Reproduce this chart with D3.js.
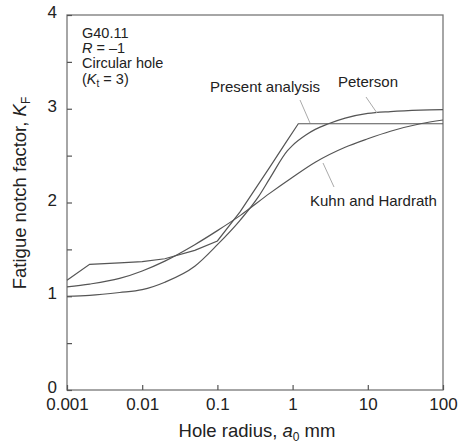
<!DOCTYPE html>
<html>
<head>
<meta charset="utf-8">
<script src="https://cdn.jsdelivr.net/npm/d3@7"></script>
<style>
body { margin: 0; background: #fff; }
text { font-family: Arial, "Liberation Sans", sans-serif; fill: #222; }
</style>
</head>
<body>
<svg></svg>
<script>
var presentX = [0.001, 0.002, 0.005, 0.01, 0.02, 0.05, 0.1, 0.2, 0.5, 0.8, 1.19, 100];
var presentK = [1.17, 1.34, 1.355, 1.37, 1.40, 1.49, 1.59, 1.90, 2.38, 2.63, 2.84, 2.84];

var petersonX = [0.001, 0.002, 0.005, 0.01, 0.02, 0.05, 0.1, 0.2, 0.35, 0.5, 0.85, 1, 1.5, 2, 3, 5, 10, 20, 50, 100];
var petersonK = [1.00, 1.01, 1.04, 1.07, 1.15, 1.32, 1.55, 1.81, 2.06, 2.26, 2.55, 2.61, 2.72, 2.78, 2.84, 2.90, 2.95, 2.97, 2.985, 2.99];

var kuhnX = [0.001, 0.002, 0.005, 0.01, 0.02, 0.05, 0.1, 0.2, 0.5, 1, 2, 5, 10, 20, 50, 100];
var kuhnK = [1.10, 1.13, 1.19, 1.27, 1.375, 1.55, 1.70, 1.86, 2.10, 2.27, 2.43, 2.59, 2.68, 2.76, 2.84, 2.88];

var xTicks = [0.001, 0.01, 0.1, 1, 10, 100];
var xTickLabels = ["0.001", "0.01", "0.1", "1", "10", "100"];
var yTicks = [0, 0.5, 1, 1.5, 2, 2.5, 3, 3.5, 4];

var svg = d3.select("svg")
    .attr("width", 458)
    .attr("height", 444);

var x = d3.scaleLog().domain([0.001, 100]).range([67, 443]);
var y = d3.scaleLinear().domain([0, 4]).range([390, 15]);

// frame
svg.append("rect")
    .attr("x", 67).attr("y", 15)
    .attr("width", 443 - 67).attr("height", 390 - 15)
    .attr("fill", "none")
    .attr("stroke", "#777")
    .attr("stroke-width", 1.3);

var xAxis = svg.append("g")
    .attr("transform", "translate(0,390)")
    .call(d3.axisBottom(x)
        .tickValues(xTicks)
        .tickSize(-5)
        .tickPadding(8)
        .tickFormat(function(d, i) { return xTickLabels[i]; }));

var yAxis = svg.append("g")
    .attr("transform", "translate(67,0)")
    .call(d3.axisLeft(y)
        .tickValues(yTicks)
        .tickSize(-5)
        .tickPadding(10)
        .tickFormat(function(d) { return d % 1 === 0 ? d : ""; }));

yAxis.selectAll(".tick text").attr("dy", "0.15em");

svg.selectAll(".domain").remove();
svg.selectAll(".tick line").attr("stroke", "#555").attr("stroke-width", 1.2);
svg.selectAll(".tick text")
    .attr("font-size", 17)
    .attr("font-family", "Arial, 'Liberation Sans', sans-serif")
    .attr("fill", "#222");

var line = d3.line()
    .x(function(d) { return x(d[0]); })
    .y(function(d) { return y(d[1]); })
    .curve(d3.curveMonotoneX);

function pairs(xs, ks) {
    return xs.map(function(v, i) { return [v, ks[i]]; });
}

svg.append("path")
    .datum(pairs(petersonX, petersonK))
    .attr("d", line)
    .attr("fill", "none").attr("stroke", "#555").attr("stroke-width", 1.2);

svg.append("path")
    .datum(pairs(kuhnX, kuhnK))
    .attr("d", line)
    .attr("fill", "none").attr("stroke", "#555").attr("stroke-width", 1.2);

svg.append("path")
    .datum(pairs(presentX, presentK))
    .attr("d", d3.line()
        .x(function(d) { return x(d[0]); })
        .y(function(d) { return y(d[1]); }))
    .attr("fill", "none").attr("stroke", "#555").attr("stroke-width", 1.2);

// leader lines
var leaders = [
    [300, 100, 310, 123],
    [366, 97, 377, 113],
    [323, 163, 334, 187]
];
svg.selectAll(".leader")
    .data(leaders)
    .enter().append("line")
    .attr("class", "leader")
    .attr("x1", function(d) { return d[0]; })
    .attr("y1", function(d) { return d[1]; })
    .attr("x2", function(d) { return d[2]; })
    .attr("y2", function(d) { return d[3]; })
    .attr("stroke", "#aaa")
    .attr("stroke-width", 1);

svg.append("text").attr("x", 210).attr("y", 92).attr("font-size", 15).text("Present analysis");
svg.append("text").attr("x", 338).attr("y", 87).attr("font-size", 15).text("Peterson");
svg.append("text").attr("x", 310).attr("y", 206).attr("font-size", 15).text("Kuhn and Hardrath");

// note block
svg.append("text").attr("x", 82).attr("y", 38).attr("font-size", 14.5).text("G40.11");
var r = svg.append("text").attr("x", 82).attr("y", 53).attr("font-size", 14.5);
r.append("tspan").attr("font-style", "italic").text("R");
r.append("tspan").text(" = \u20131");
svg.append("text").attr("x", 82).attr("y", 68).attr("font-size", 14.5).text("Circular hole");
var kt = svg.append("text").attr("x", 82).attr("y", 84).attr("font-size", 14.5);
kt.append("tspan").text("(");
kt.append("tspan").attr("font-style", "italic").text("K");
kt.append("tspan").attr("font-size", 10).attr("dy", 3).text("t");
kt.append("tspan").attr("dy", -3).text(" = 3)");

// axis titles
var xt = svg.append("text")
    .attr("x", 257).attr("y", 437)
    .attr("text-anchor", "middle")
    .attr("font-size", 18.5);
xt.append("tspan").text("Hole radius, ");
xt.append("tspan").attr("font-style", "italic").text("a");
xt.append("tspan").attr("font-size", 12).attr("dy", 4).text("0");
xt.append("tspan").attr("dy", -4).text("  mm");

var yt = svg.append("text")
    .attr("transform", "translate(26,193) rotate(-90)")
    .attr("text-anchor", "middle")
    .attr("font-size", 18.5);
yt.append("tspan").text("Fatigue notch factor, ");
yt.append("tspan").attr("font-style", "italic").text("K");
yt.append("tspan").attr("font-size", 12).attr("dy", 4).text("F");
</script>
</body>
</html>
